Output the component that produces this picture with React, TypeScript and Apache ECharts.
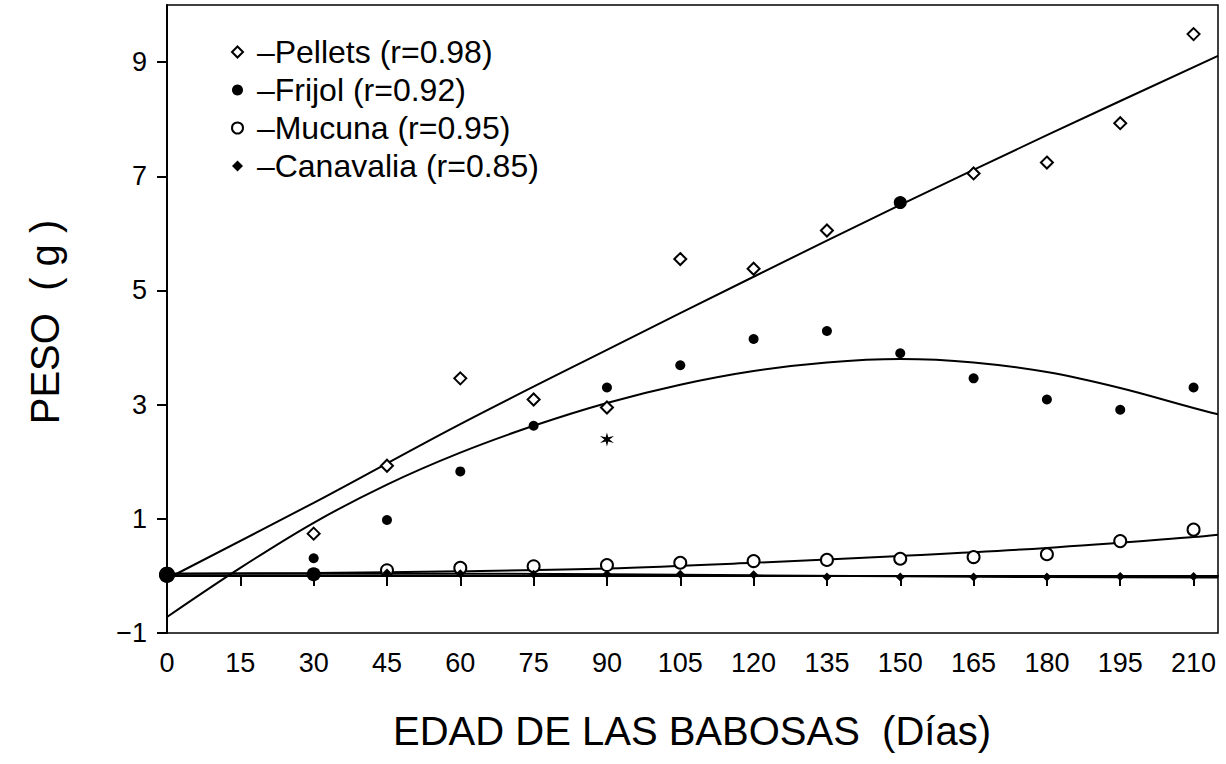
import { useEffect, useRef } from "react";
import * as echarts from "echarts";

// Sampling days (x) and mean slug weight (g) per diet
const days = [0, 30, 45, 60, 75, 90, 105, 120, 135, 150, 165, 180, 195, 210];
const pellets = [0.02, 0.74, 1.93, 3.46, 3.09, 2.95, 5.55, 5.38, 6.05, 6.54, 7.05, 7.24, 7.93, 9.49];
const frijol = [0.02, 0.31, 0.98, 1.83, 2.63, 3.3, 3.69, 4.15, 4.29, 3.9, 3.46, 3.09, 2.91, 3.3];
const mucuna = [0.02, 0.03, 0.1, 0.14, 0.17, 0.19, 0.23, 0.26, 0.28, 0.3, 0.33, 0.38, 0.61, 0.81];
const canavalia = [0.02, 0.03, 0.05, 0.04, 0.03, 0.03, 0.03, 0.02, -0.02, -0.02, -0.02, -0.02, -0.01, -0.01];

// Marked observation
const starDays = [90];
const starWeights = [2.39];

// Fitted regression curves
const pelletsFitDays = [0, 30, 60, 90, 120, 150, 180, 215];
const pelletsFit = [-0.05, 1.28, 2.66, 3.96, 5.24, 6.5, 7.72, 9.11];
const frijolFitDays = [0, 15, 30, 45, 60, 75, 90, 105, 120, 135, 150, 165, 180, 195, 210, 215];
const frijolFit = [-0.72, 0.14, 0.93, 1.6, 2.16, 2.63, 3.03, 3.35, 3.59, 3.74, 3.8, 3.74, 3.57, 3.29, 2.94, 2.83];
const mucunaFitDays = [0, 30, 60, 90, 120, 150, 180, 210, 215];
const mucunaFit = [0.04, 0.05, 0.08, 0.13, 0.23, 0.35, 0.49, 0.68, 0.72];
const canavaliaFitDays = [0, 60, 120, 180, 215];
const canavaliaFit = [0.04, 0.04, 0.01, -0.02, -0.03];

const xTicks = [0, 15, 30, 45, 60, 75, 90, 105, 120, 135, 150, 165, 180, 195, 210];
const yTicks = [-1, 1, 3, 5, 7, 9];

const seriesNames = ["Pellets (r=0.98)", "Frijol (r=0.92)", "Mucuna (r=0.95)", "Canavalia (r=0.85)"];

const FONT = "'Liberation Sans', Arial, sans-serif";
const INK = "#000";

const pairs = (xs: number[], ys: number[]) => xs.map((x, i) => [x, ys[i]]);

const STAR =
  "path://M0,-10 L1.6,-3 L8.7,-5 L3.2,0 L8.7,5 L1.6,3 L0,10 L-1.6,3 L-8.7,5 L-3.2,0 L-8.7,-5 L-1.6,-3 Z";

const fitLine = (xs: number[], ys: number[]) => ({
  type: "line",
  data: pairs(xs, ys),
  showSymbol: false,
  smooth: 0.35,
  silent: true,
  z: 2,
  lineStyle: { color: INK, width: 2 },
});

export default function App() {
  const ref = useRef<HTMLDivElement>(null);

  useEffect(() => {
    if (!ref.current) return;
    const chart = echarts.init(ref.current, null, { renderer: "svg" });

    const solid = { color: INK, opacity: 1 };
    const hollow = { color: "#fff", borderColor: INK, borderWidth: 2, opacity: 1 };

    const pelletsData = pairs(days, pellets).map((p) =>
      p[0] === 150 ? { value: p, symbol: "circle", symbolSize: 11, itemStyle: solid } : p
    );
    const frijolData = pairs(days, frijol).map((p) =>
      p[0] === 0 ? { value: p, symbolSize: 16 } : p
    );
    const mucunaData = pairs(days, mucuna).map((p) =>
      p[0] === 0 || p[0] === 30
        ? { value: p, symbolSize: p[0] === 0 ? 16 : 14, itemStyle: { ...solid, borderWidth: 0 } }
        : p
    );

    chart.setOption({
      animation: false,
      backgroundColor: "#fff",
      textStyle: { fontFamily: FONT, color: INK },
      grid: {
        left: 167,
        top: 5,
        right: 8,
        bottom: 131,
        show: true,
        borderColor: INK,
        borderWidth: 1.5,
      },
      legend: {
        orient: "vertical",
        left: 226,
        top: 31,
        itemGap: 6,
        itemWidth: 11,
        itemHeight: 11,
        selectedMode: false,
        formatter: (n: string) => " \u2013" + n,
        textStyle: { fontSize: 32, fontFamily: FONT, color: INK, lineHeight: 32 },
        data: [
          { name: seriesNames[0], icon: "diamond", itemStyle: hollow },
          { name: seriesNames[1], icon: "circle", itemStyle: { ...solid, borderWidth: 0 } },
          { name: seriesNames[2], icon: "circle", itemStyle: hollow },
          { name: seriesNames[3], icon: "diamond", itemStyle: { ...solid, borderWidth: 0 } },
        ],
      },
      xAxis: {
        type: "value",
        min: 0,
        max: 215,
        axisLine: { show: true, lineStyle: { color: INK, width: 2 } },
        axisTick: { show: true, length: 10, lineStyle: { color: INK, width: 2 }, customValues: xTicks },
        axisLabel: { customValues: xTicks, fontSize: 27, margin: 16, color: INK, fontFamily: FONT },
        splitLine: { show: false },
      },
      yAxis: {
        type: "value",
        min: -1,
        max: 10,
        axisLine: { show: true, lineStyle: { color: INK, width: 2 } },
        axisTick: { show: true, length: 10, lineStyle: { color: INK, width: 2 }, customValues: yTicks },
        axisLabel: {
          customValues: yTicks,
          fontSize: 27,
          margin: 20,
          color: INK,
          fontFamily: FONT,
          formatter: (v: number) => String(v).replace("-", "\u2212"),
        },
        splitLine: { show: false },
      },
      graphic: [
        {
          type: "text",
          x: 692,
          y: 731,
          style: {
            text: "EDAD DE LAS BABOSAS  (Días)",
            font: `40px ${FONT}`,
            fill: INK,
            align: "center",
            verticalAlign: "middle",
          },
        },
        {
          type: "text",
          x: 45,
          y: 322,
          rotation: Math.PI / 2,
          style: {
            text: "PESO  ( g )",
            font: `40px ${FONT}`,
            fill: INK,
            align: "center",
            verticalAlign: "middle",
          },
        },
      ],
      series: [
        fitLine(pelletsFitDays, pelletsFit),
        fitLine(frijolFitDays, frijolFit),
        fitLine(mucunaFitDays, mucunaFit),
        fitLine(canavaliaFitDays, canavaliaFit),
        {
          name: seriesNames[0],
          type: "scatter",
          data: pelletsData,
          symbol: "diamond",
          symbolSize: 12,
          z: 3,
          itemStyle: hollow,
        },
        {
          name: seriesNames[1],
          type: "scatter",
          data: frijolData,
          symbol: "circle",
          symbolSize: 10,
          z: 4,
          itemStyle: solid,
        },
        {
          name: seriesNames[2],
          type: "scatter",
          data: mucunaData,
          symbol: "circle",
          symbolSize: 12,
          z: 3,
          itemStyle: hollow,
        },
        {
          name: seriesNames[3],
          type: "scatter",
          data: pairs(days, canavalia),
          symbol: "diamond",
          symbolSize: 9,
          z: 4,
          itemStyle: solid,
        },
        {
          name: "marca",
          type: "scatter",
          data: pairs(starDays, starWeights),
          symbol: STAR,
          symbolSize: 14,
          z: 3,
          itemStyle: solid,
        },
      ],
    });

    return () => chart.dispose();
  }, []);

  return (
    <div
      ref={ref}
      style={{ position: "fixed", left: 0, top: 0, width: 1226, height: 764, background: "#fff" }}
    />
  );
}
